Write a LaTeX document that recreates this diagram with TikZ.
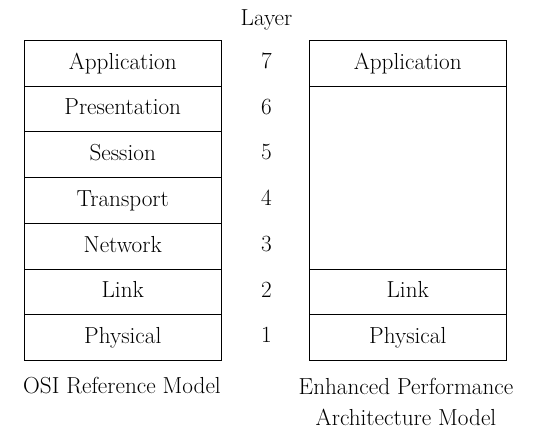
\documentclass[tikz,border=0pt]{standalone}
\begin{document}
\begin{tikzpicture}[x=1pt,y=-1pt,
  txt/.style={font=\fontsize{23.2}{31}\selectfont},
  cell/.style={txt,draw=black,line width=1pt,minimum width=196.5pt,minimum height=45.7pt,inner sep=0pt,text height=16.5pt,text depth=5pt,anchor=north west},
  tallcell/.style={cell,minimum height=182.9pt},
  lbl/.style={txt,inner sep=0pt,text height=16.5pt,text depth=5pt},
  captext/.style={txt,inner sep=0pt,align=center}]
\useasboundingbox (0,0) rectangle (534,430);
% left stack
\node[cell] (l7) at (24,40) {Application};
\node[cell] (l6) at (24,85.7) {Presentation};
\node[cell] (l5) at (24,131.4) {Session};
\node[cell] (l4) at (24,177.1) {Transport};
\node[cell] (l3) at (24,222.9) {Network};
\node[cell] (l2) at (24,268.6) {Link};
\node[cell] (l1) at (24,314.3) {Physical};
% right stack
\node[cell] (r7) at (309,40) {Application};
\node[tallcell] (rmid) at (309,85.7) {};
\node[cell] (r2) at (309,268.6) {Link};
\node[cell] (r1) at (309,314.3) {Physical};
% layer numbers
\node[lbl] (layer) at (266.5,20) {Layer};
\node[lbl] (n7) at (266.5,62.8) {7};
\node[lbl] (n6) at (266.5,108.5) {6};
\node[lbl] (n5) at (266.5,154.2) {5};
\node[lbl] (n4) at (266.5,200) {4};
\node[lbl] (n3) at (266.5,245.7) {3};
\node[lbl] (n2) at (266.5,291.4) {2};
\node[lbl] (n1) at (266.5,337.1) {1};
% captions
\node[captext] (osi) at (122,386) {OSI Reference Model};
\node[captext] (epa) at (406,401.5) {Enhanced Performance\\Architecture Model};
\end{tikzpicture}
\end{document}
